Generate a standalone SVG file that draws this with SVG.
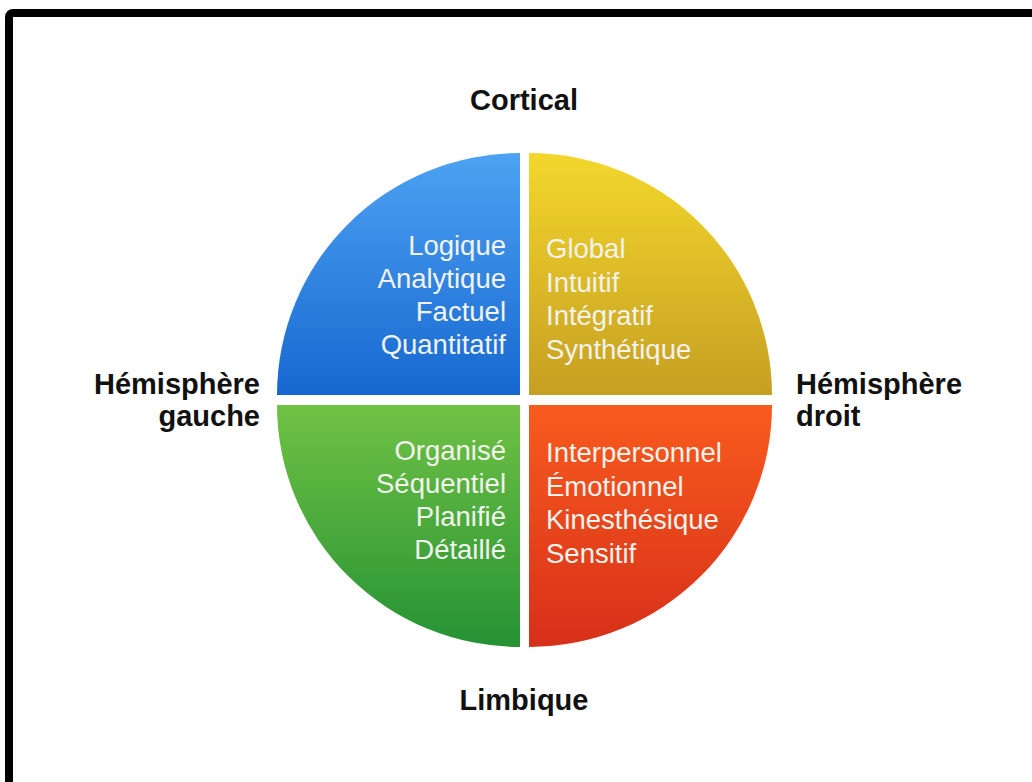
<svg xmlns="http://www.w3.org/2000/svg" width="1032" height="782" viewBox="0 0 1032 782">
<style>
.lbl{font-family:"Liberation Sans",Arial,sans-serif;font-weight:bold;font-size:29px;fill:#111}
.q{font-family:"Liberation Sans",Arial,sans-serif;font-size:27.5px;fill:#f2f2ee}
</style>
<defs>
<linearGradient id="gb" x1="0" y1="0" x2="0" y2="1"><stop offset="0" stop-color="#4ea2f2"/><stop offset="1" stop-color="#1668d0"/></linearGradient>
<linearGradient id="gy" x1="0" y1="0" x2="0" y2="1"><stop offset="0" stop-color="#f3d72c"/><stop offset="1" stop-color="#c69f22"/></linearGradient>
<linearGradient id="gg" x1="0" y1="0" x2="0" y2="1"><stop offset="0" stop-color="#70c244"/><stop offset="1" stop-color="#259234"/></linearGradient>
<linearGradient id="gr" x1="0" y1="0" x2="0" y2="1"><stop offset="0" stop-color="#f95b1d"/><stop offset="1" stop-color="#d6301a"/></linearGradient>
</defs>
<rect x="0" y="0" width="1032" height="782" fill="#fff"/>
<rect x="9" y="13" width="1040" height="800" rx="4" fill="none" stroke="#000" stroke-width="8"/>
<g id="blue">
<path d="M520 395 L277 395 A243 242 0 0 1 520 153 Z" fill="url(#gb)"/>
<text class="q" text-anchor="end"><tspan x="506" y="255">Logique</tspan><tspan x="506" y="288">Analytique</tspan><tspan x="506" y="321">Factuel</tspan><tspan x="506" y="354">Quantitatif</tspan></text>
</g>
<g id="yellow">
<path d="M529 395 L529 153 A243 242 0 0 1 772 395 Z" fill="url(#gy)"/>
<text class="q"><tspan x="546" y="258">Global</tspan><tspan x="546" y="292">Intuitif</tspan><tspan x="546" y="325">Intégratif</tspan><tspan x="546" y="359">Synthétique</tspan></text>
</g>
<g id="green">
<path d="M520 405 L520 647 A243 242 0 0 1 277 405 Z" fill="url(#gg)"/>
<text class="q" text-anchor="end"><tspan x="506" y="460">Organisé</tspan><tspan x="506" y="493">Séquentiel</tspan><tspan x="506" y="526">Planifié</tspan><tspan x="506" y="559">Détaillé</tspan></text>
</g>
<g id="red">
<path d="M529 405 L772 405 A243 242 0 0 1 529 647 Z" fill="url(#gr)"/>
<text class="q"><tspan x="546" y="462">Interpersonnel</tspan><tspan x="546" y="496">Émotionnel</tspan><tspan x="546" y="529">Kinesthésique</tspan><tspan x="546" y="563">Sensitif</tspan></text>
</g>
<g id="cortical"><text class="lbl" x="524" y="110" text-anchor="middle">Cortical</text></g>
<g id="limbique"><text class="lbl" x="524" y="710" text-anchor="middle">Limbique</text></g>
<g id="gauche"><text class="lbl" text-anchor="end"><tspan x="260" y="394">Hémisphère</tspan><tspan x="260" y="426">gauche</tspan></text></g>
<g id="droit"><text class="lbl"><tspan x="796" y="394">Hémisphère</tspan><tspan x="796" y="426">droit</tspan></text></g>
<g id="connectors"/>
</svg>
